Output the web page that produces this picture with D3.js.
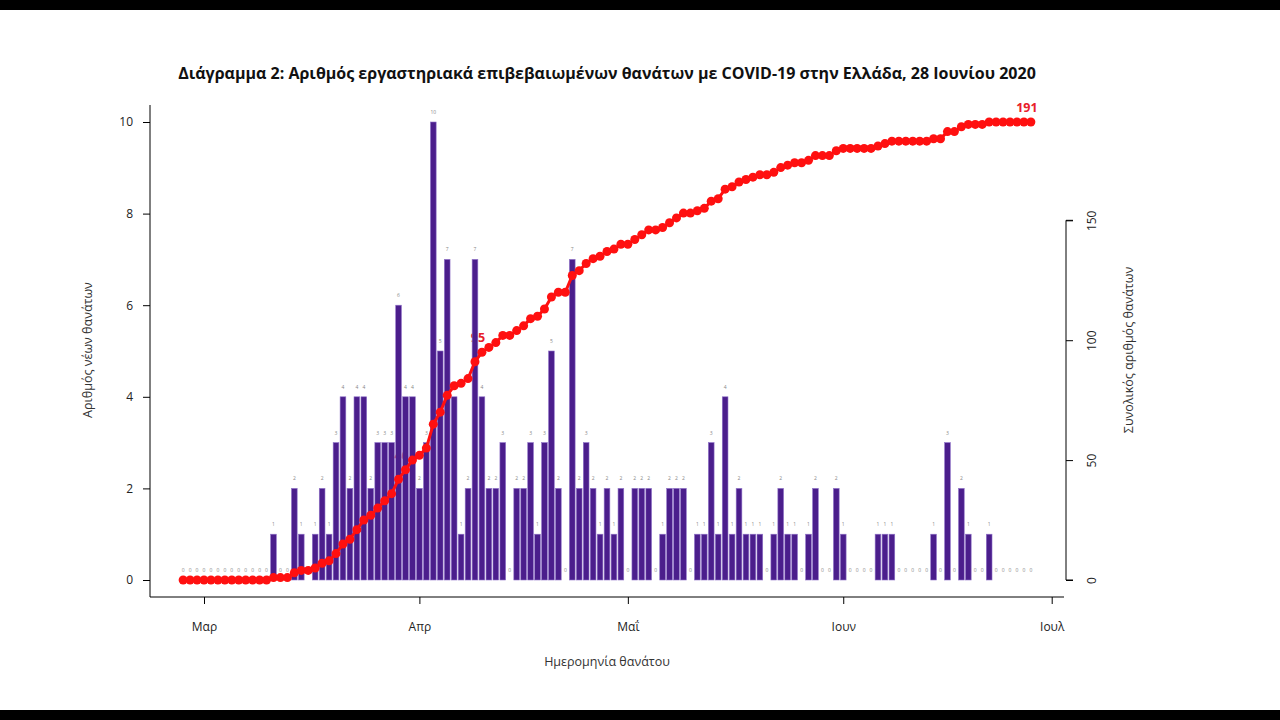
<!DOCTYPE html>
<html>
<head>
<meta charset="utf-8">
<script src="https://cdn.jsdelivr.net/npm/d3@7"></script>
<style>
  body { margin: 0; background: #fff; }
  svg { display: block; font-family: "Open Sans", "Noto Sans", sans-serif; }
</style>
</head>
<body>
<svg id="chart" width="1280" height="720"></svg>
<script>
// daily deaths, one value per day starting 27 Feb 2020
const startDate = "2020-02-27";
const dailyDeaths = [
  0, 0, 0, 0, 0, 0, 0, 0, 0, 0, 0, 0, 0, 1, 0, 0, 2, 1, 0, 1,
  2, 1, 3, 4, 2, 4, 4, 2, 3, 3, 3, 6, 4, 4, 2, 3, 10, 5, 7, 4,
  1, 2, 7, 4, 2, 2, 3, 0, 2, 2, 3, 1, 3, 5, 2, 0, 7, 2, 3, 2,
  1, 2, 1, 2, 0, 2, 2, 2, 0, 1, 2, 2, 2, 0, 1, 1, 3, 1, 4, 1,
  2, 1, 1, 1, 0, 1, 2, 1, 1, 0, 1, 2, 0, 0, 2, 1, 0, 0, 0, 0,
  1, 1, 1, 0, 0, 0, 0, 0, 1, 0, 3, 0, 2, 1, 0, 0, 1, 0, 0, 0,
  0, 0, 0
];
// dates where the cumulative total is written
const labelDates = ["2020-03-30", "2020-04-10", "2020-06-28"];

const monthTicks = ["2020-03-01", "2020-04-01", "2020-05-01", "2020-06-01", "2020-07-01"];
const monthLabels = ["Μαρ", "Απρ", "Μαΐ", "Ιουν", "Ιουλ"];
const leftTicks = [0, 2, 4, 6, 8, 10];
const rightTicks = [0, 50, 100, 150];

const titleText = "Διάγραμμα 2: Αριθμός εργαστηριακά επιβεβαιωμένων θανάτων με COVID-19 στην Ελλάδα, 28 Ιουνίου 2020";

const parse = d3.utcParse("%Y-%m-%d");
const t0 = parse(startDate);
const cum = Array.from(d3.cumsum(dailyDeaths));
const rows = dailyDeaths.map((v, i) => ({ date: d3.utcDay.offset(t0, i), value: v, total: cum[i] }));
const total = cum[cum.length - 1];

const svg = d3.select("#chart");

// letterbox bands
svg.append("rect").attr("x", 0).attr("y", 0).attr("width", 1280).attr("height", 10).attr("fill", "#000");
svg.append("rect").attr("x", 0).attr("y", 710).attr("width", 1280).attr("height", 10).attr("fill", "#000");

const x = d3.scaleUtc()
  .domain([parse(monthTicks[0]), parse(monthTicks[monthTicks.length - 1])])
  .range([204, 1051.7]);
const y = d3.scaleLinear().domain([0, 10]).range([580, 122]);
const yCum = d3.scaleLinear().domain([0, total]).range([580, 122]);

const dayW = x(d3.utcDay.offset(t0, 1)) - x(t0);
const barW = dayW * 0.82;

// cumulative labels, drawn first so the bars sit over them
const labelSet = new Set(labelDates);
svg.append("g")
  .selectAll("text")
  .data(rows.filter(d => labelSet.has(d3.utcFormat("%Y-%m-%d")(d.date))))
  .join("text")
  .attr("x", d => x(d.date) - 4)
  .attr("y", d => yCum(d.total) - 10)
  .attr("text-anchor", "middle")
  .attr("font-size", 12.5)
  .attr("font-weight", "bold")
  .attr("fill", "#e8202a")
  .text(d => d.total);

// bars
svg.append("g")
  .selectAll("rect")
  .data(rows.filter(d => d.value > 0))
  .join("rect")
  .attr("x", d => x(d.date) - barW / 2)
  .attr("y", d => y(d.value))
  .attr("width", barW)
  .attr("height", d => y(0) - y(d.value))
  .attr("fill", "#4b1e8c")
  .attr("stroke", "#8f72c8")
  .attr("stroke-width", 0.6);

// small value labels above bars
svg.append("g")
  .selectAll("text")
  .data(rows)
  .join("text")
  .attr("x", d => x(d.date))
  .attr("y", d => y(d.value) - 8)
  .attr("text-anchor", "middle")
  .attr("font-size", 5)
  .attr("fill", "#888")
  .text(d => d.value);

// cumulative line + points
svg.append("path")
  .datum(rows)
  .attr("fill", "none")
  .attr("stroke", "#ff1010")
  .attr("stroke-width", 3)
  .attr("d", d3.line().x(d => x(d.date)).y(d => yCum(d.total)));

svg.append("g")
  .selectAll("circle")
  .data(rows)
  .join("circle")
  .attr("cx", d => x(d.date))
  .attr("cy", d => yCum(d.total))
  .attr("r", 4.5)
  .attr("fill", "#ff1010");

// left axis
const gl = svg.append("g").attr("transform", "translate(150,0)")
  .call(d3.axisLeft(y).tickValues(leftTicks).tickSize(7).tickPadding(10));
gl.select(".domain").attr("d", "M0,105V597");
gl.selectAll("text").attr("font-size", 12).attr("fill", "#222").attr("font-family", "Open Sans, sans-serif");

// bottom axis
const gb = svg.append("g").attr("transform", "translate(0,597)")
  .call(d3.axisBottom(x).tickValues(monthTicks.map(parse)).tickSize(7).tickPadding(18)
    .tickFormat((d, i) => monthLabels[i]));
gb.select(".domain").attr("d", "M150,0H1064");
gb.selectAll("text").attr("font-size", 12).attr("fill", "#222").attr("font-family", "Open Sans, sans-serif");

// right axis, labels parallel to the axis
const gr = svg.append("g").attr("transform", "translate(1066,0)")
  .call(d3.axisRight(yCum).tickValues(rightTicks).tickSize(7));
gr.select(".domain").attr("d", `M7,${yCum(rightTicks[rightTicks.length - 1])}H0V${yCum(0)}H7`);
gr.selectAll(".tick text")
  .attr("x", 0).attr("dy", 0)
  .attr("text-anchor", "middle")
  .attr("transform", "translate(30,0) rotate(-90)")
  .attr("font-size", 12).attr("fill", "#222").attr("font-family", "Open Sans, sans-serif");

// titles
svg.append("text")
  .attr("x", 607).attr("y", 79)
  .attr("text-anchor", "middle")
  .attr("font-size", 16).attr("font-weight", "bold").attr("fill", "#111")
  .text(titleText);

svg.append("text")
  .attr("x", 607).attr("y", 666)
  .attr("text-anchor", "middle")
  .attr("font-size", 12.5).attr("fill", "#333")
  .text("Ημερομηνία θανάτου");

svg.append("text")
  .attr("transform", "translate(92,350) rotate(-90)")
  .attr("text-anchor", "middle")
  .attr("font-size", 12.5).attr("fill", "#333")
  .text("Αριθμός νέων θανάτων");

svg.append("text")
  .attr("transform", "translate(1133,350) rotate(-90)")
  .attr("text-anchor", "middle")
  .attr("font-size", 12.5).attr("fill", "#333")
  .text("Συνολικός αριθμός θανάτων");
</script>
</body>
</html>
